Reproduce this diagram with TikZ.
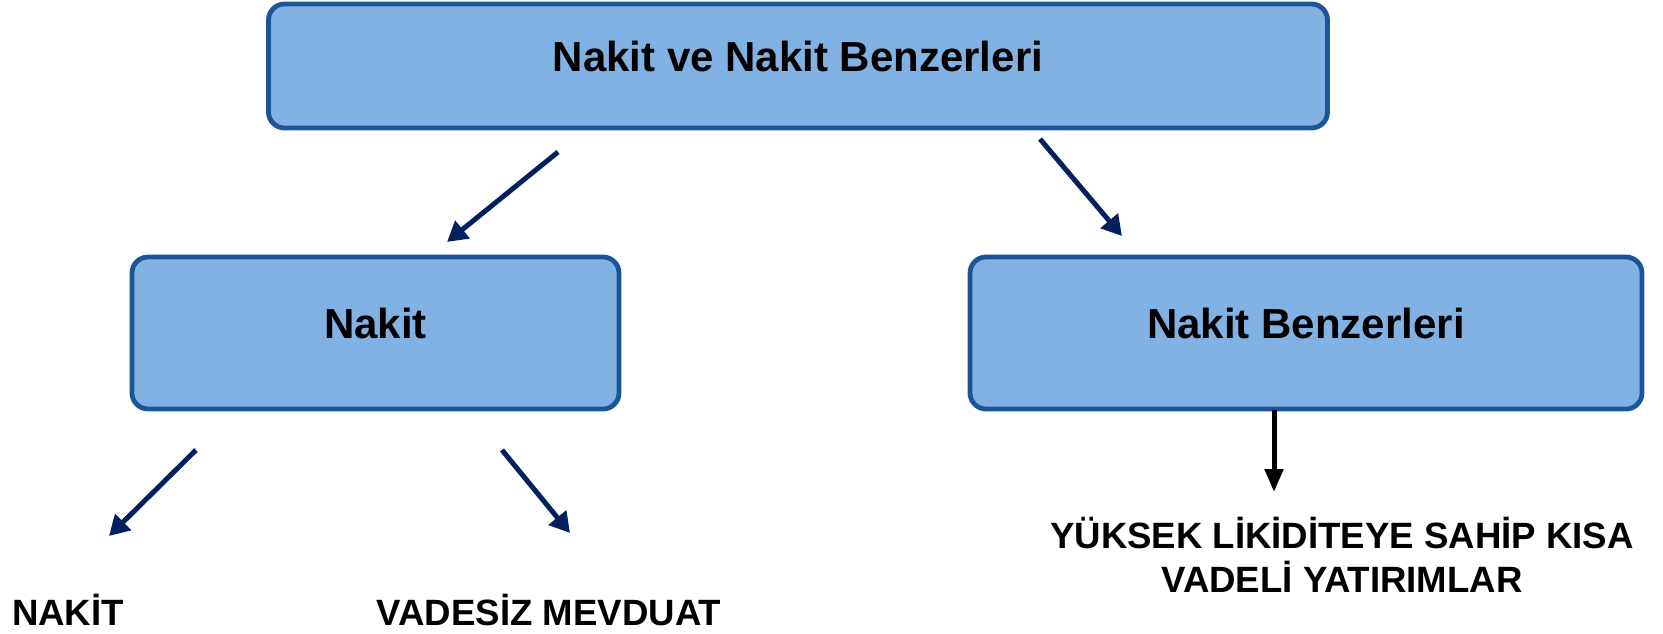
\documentclass[tikz,border=0pt]{standalone}
\usepackage{fontspec}
\setmainfont{Liberation Sans}
\usetikzlibrary{arrows.meta}
\definecolor{boxfill}{HTML}{82B1E4}
\definecolor{boxline}{HTML}{1B5598}
\definecolor{navy}{HTML}{002060}

\begin{document}
\begin{tikzpicture}[x=0.5pt,y=-0.5pt,
    box/.style={draw=boxline,fill=boxfill,line width=2.4pt,rounded corners=8pt,
      font=\fontsize{21}{25}\selectfont\bfseries,text depth=10pt},
    lbl/.style={font=\fontsize{18.3}{22}\selectfont\bfseries,align=center,anchor=base},
    link/.style={draw=navy,line width=2.5pt,-{Triangle[length=10pt,width=11pt]}},
    down/.style={draw=black,line width=2.5pt,-{Triangle[length=11.5pt,width=9pt]}}]
  \useasboundingbox (0,0) rectangle (1663,633);
  % boxes
  \node [box,minimum width=529.5pt,minimum height=62pt] (top) at (798,66) {Nakit ve Nakit Benzerleri};
  \node [box,minimum width=243.5pt,minimum height=76pt] (nakit) at (375.5,333) {Nakit};
  \node [box,minimum width=336pt,minimum height=76pt] (benz) at (1306,333) {Nakit Benzerleri};
  % labels
  \node [lbl] (cash) at (68,625) {NAKİT};
  \node [lbl] (demand) at (549,625) {VADESİZ MEVDUAT};
  \node [lbl] (shortterm) at (1342,592) {YÜKSEK LİKİDİTEYE SAHİP KISA\\VADELİ YATIRIMLAR};
  % arrow ends
  \coordinate (topL) at (558,152);
  \coordinate (nakitIn) at (447,242);
  \coordinate (topR) at (1040,139);
  \coordinate (benzIn) at (1122,236);
  \coordinate (nakitL) at (196,450);
  \coordinate (cashIn) at (109,536);
  \coordinate (nakitR) at (502,450);
  \coordinate (demandIn) at (570,533);
  \coordinate (benzOut) at (1274,410);
  \coordinate (shortIn) at (1274,492);
  \draw [link] (topL) -- (nakitIn);
  \draw [link] (topR) -- (benzIn);
  \draw [link] (nakitL) -- (cashIn);
  \draw [link] (nakitR) -- (demandIn);
  \draw [down] (benzOut) -- (shortIn);
\end{tikzpicture}
\end{document}
